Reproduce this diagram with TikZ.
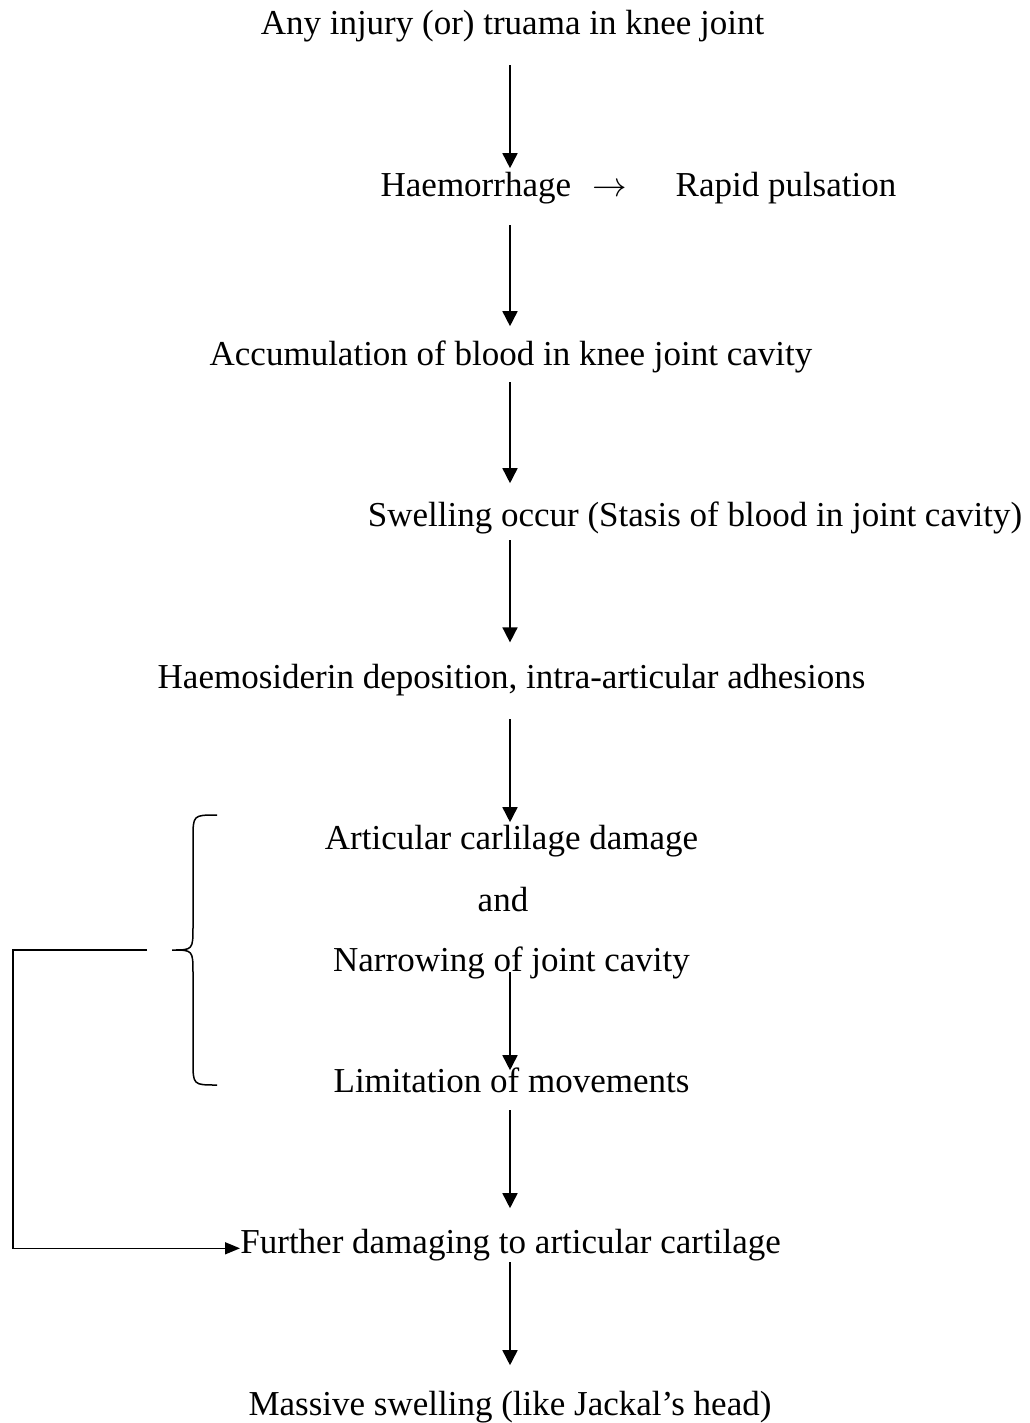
\documentclass[tikz,border=0pt]{standalone}
\usepackage{fontspec}
\setmainfont{Liberation Serif}
\usepackage{amsmath}
\usetikzlibrary{arrows.meta,positioning,calc}

\begin{document}
\begin{tikzpicture}[x=0.5pt, y=-0.5pt,
  font=\fontsize{17.5}{21}\selectfont,
  txt/.style={inner sep=0pt, text height=0.69em, text depth=0.22em, anchor=base},
  flow/.style={-{Triangle[length=7.5pt,width=7.5pt]}, line width=0.8pt},
  back/.style={-{Triangle[length=7.5pt,width=6pt]}, line width=0.75pt}]
\useasboundingbox (0,0) rectangle (1029,1423);
\coordinate (axis) at (510,0);
\node[txt] (injury) at (512.5,35) {Any injury (or) truama in knee joint};
\node[txt] (haem) at (638.5,197) {Haemorrhage\hspace{0.6em}$\rightarrow$\hspace{1.4em}Rapid pulsation};
\node[txt] (accum) at (511,365) {Accumulation of blood in knee joint cavity};
\node[txt] (swell) at (695,526) {Swelling occur (Stasis of blood in joint cavity)};
\node[txt] (depos) at (511.5,688) {Haemosiderin deposition, intra-articular adhesions};
\node[txt] (cart) at (511.5,849) {Articular carlilage damage};
\node[txt] (and) at (503,911) {and};
\node[txt] (narrow) at (511.5,971) {Narrowing of joint cavity};
\node[txt] (limit) at (511.5,1092) {Limitation of movements};
\node[txt, anchor=base west] (further) at (240,1253) {Further damaging to articular cartilage};
\node[txt] (massive) at (510,1415) {Massive swelling (like Jackal’s head)};
% arrows down the middle
\draw[flow, shorten <=12.7pt, shorten >=7.3pt] (injury.south -| axis) -- (haem.north -| axis);
\draw[flow, shorten <=11.7pt, shorten >=12.3pt] (haem.south -| axis) -- (accum.north -| axis);
\draw[flow, shorten <=6.2pt, shorten >=14.3pt] (accum.south -| axis) -- (swell.north -| axis);
\draw[flow, shorten <=4.7pt, shorten >=15.7pt] (swell.south -| axis) -- (depos.north -| axis);
\draw[flow, shorten <=13.2pt, shorten >=6.3pt] (depos.south -| axis) -- (cart.north -| axis);
\draw[flow, shorten <=-1.7pt, shorten >=3.8pt] (narrow.south -| axis) -- (limit.north -| axis);
\draw[flow, shorten <=6.8pt, shorten >=15.3pt] (limit.south -| axis) -- (further.north -| axis);
\draw[flow, shorten <=2.3pt, shorten >=17.8pt] (further.south -| axis) -- (massive.north -| axis);
% brace
\draw[line width=0.75pt] (217,815) .. controls (193,815) .. (193,839) -- (193,926)
  .. controls (193,950) .. (172,950) .. controls (193,950) .. (193,974) -- (193,1061)
  .. controls (193,1085) .. (217,1085);
% feedback
\coordinate (fbstart) at (147,950);
\coordinate (fbleft) at (13,950);
\draw[back] (fbstart) -- (fbleft) |- (further.west);
\end{tikzpicture}
\end{document}
